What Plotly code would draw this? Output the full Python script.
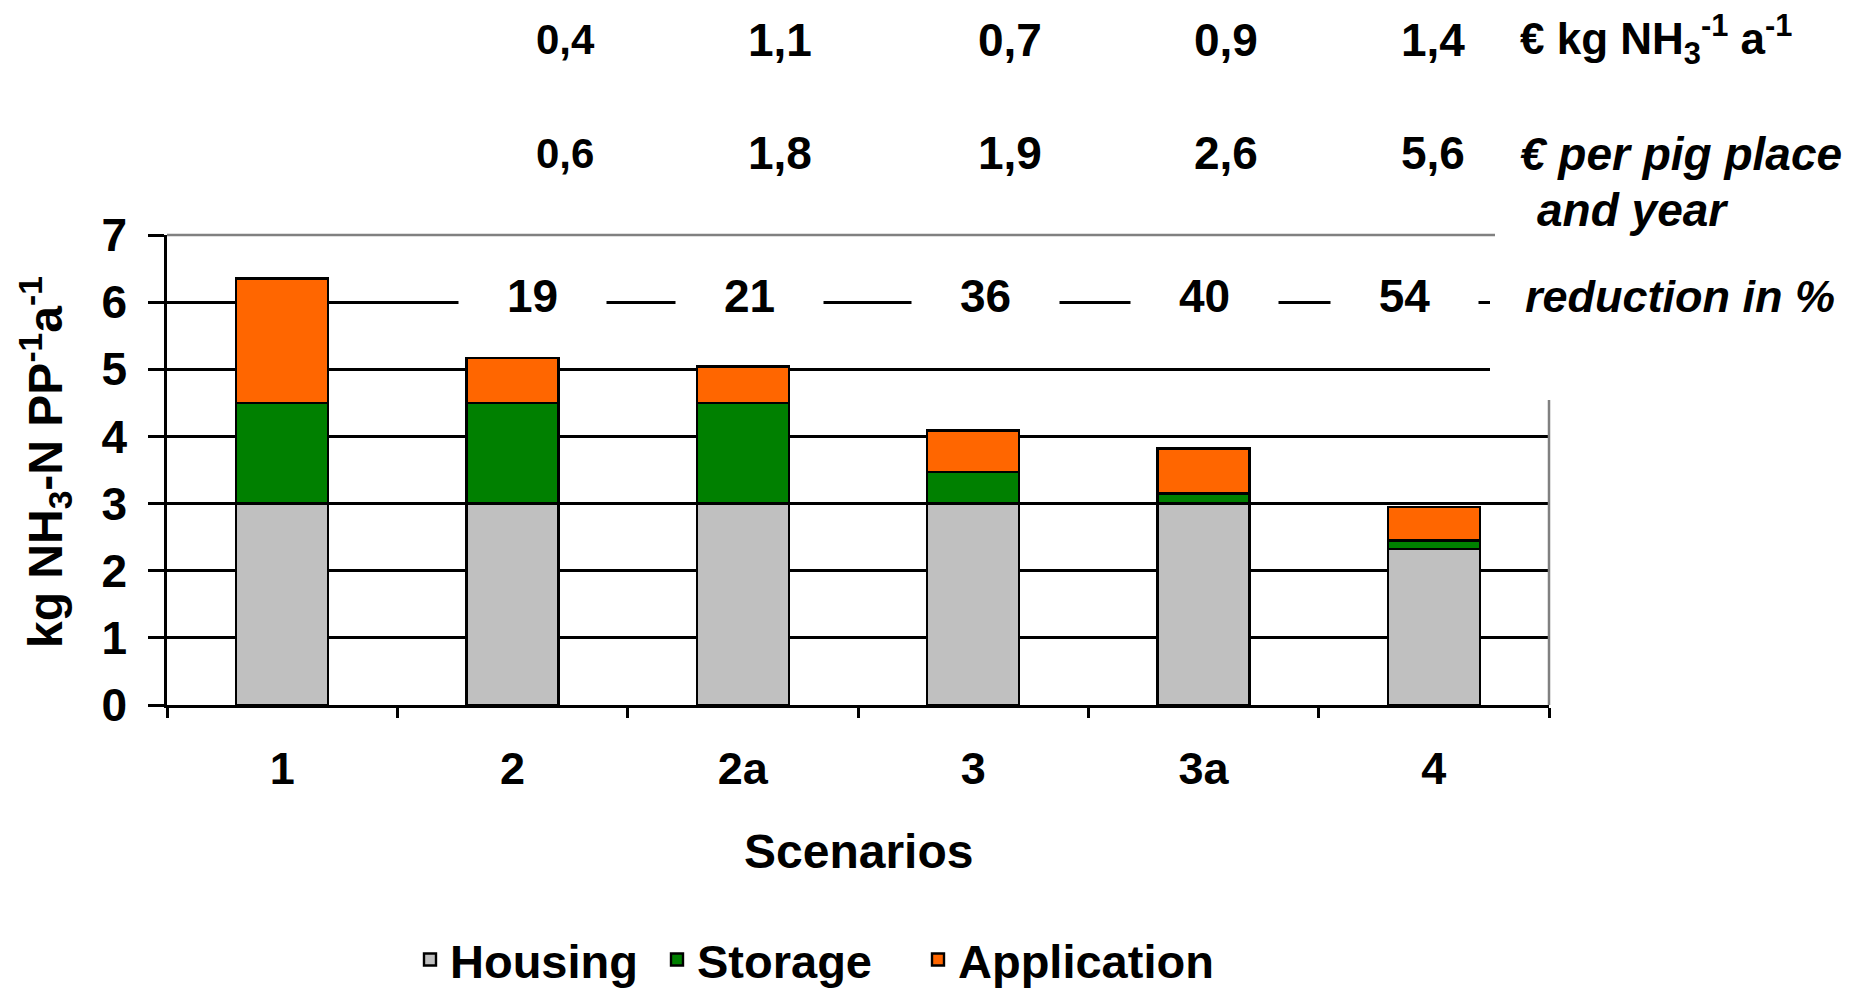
import plotly.graph_objects as go

# ---------------- data ----------------
scenarios = ["1", "2", "2a", "3", "3a", "4"]
housing = [3.0, 3.0, 3.0, 3.0, 3.0, 2.32]
storage = [1.5, 1.5, 1.5, 0.47, 0.15, 0.13]
application = [1.85, 0.67, 0.54, 0.62, 0.67, 0.50]

cost_per_kg = ["0,4", "1,1", "0,7", "0,9", "1,4"]
cost_per_place = ["0,6", "1,8", "1,9", "2,6", "5,6"]
reduction_pct = ["19", "21", "36", "40", "54"]

y_ticks = [0, 1, 2, 3, 4, 5, 6, 7]

# ---------------- layout geometry (pixels) ----------------
W, H = 1858, 988
L, R, T, B = 167, 1549, 235, 705   # plot area


def px(x):
    return (x - L) / (R - L)


def py(y):
    return (B - y) / (B - T)


FONT = "Liberation Sans, Arial, sans-serif"
NARROW = "Liberation Sans Narrow, Arial Narrow, Liberation Sans, Arial, sans-serif"

fig = go.Figure()
colors = {"Housing": "#C0C0C0", "Storage": "#008000", "Application": "#FF6600"}
legend_widths = {"Housing": 202, "Storage": 216, "Application": 260}
for name, vals in [("Housing", housing), ("Storage", storage), ("Application", application)]:
    fig.add_trace(go.Bar(
        x=scenarios, y=vals, name=name, legendwidth=legend_widths[name],
        marker=dict(color=colors[name], line=dict(color="black", width=2.4)),
    ))

annotations = []

# top rows of cost figures
top_x = [565, 780, 1010, 1226, 1433]
top_sizes = [42, 46, 46, 46, 46]
for xp, t, s in zip(top_x, cost_per_kg, top_sizes):
    annotations.append(dict(x=px(xp), y=py(40), xref="paper", yref="paper", text=t,
                            showarrow=False, xanchor="center", yanchor="middle",
                            font=dict(family=FONT, size=s, color="black", weight="bold")))
for xp, t, s in zip(top_x, cost_per_place, top_sizes):
    annotations.append(dict(x=px(xp), y=py(153), xref="paper", yref="paper", text=t,
                            showarrow=False, xanchor="center", yanchor="middle",
                            font=dict(family=FONT, size=s, color="black", weight="bold")))

# reduction numbers with white boxes interrupting grid line 6
red_x = [532, 749, 985, 1204, 1404]
for xp, t in zip(red_x, reduction_pct):
    annotations.append(dict(x=px(xp), y=py(296), xref="paper", yref="paper", text=t,
                            showarrow=False, xanchor="center", yanchor="middle",
                            width=147, height=50, bgcolor="white", borderpad=0,
                            font=dict(family=NARROW, size=46, color="black", weight="bold")))

# right-hand labels
annotations.append(dict(x=px(1518), y=py(40), xref="paper", yref="paper",
                        text="€ kg NH<sub>3</sub><sup>-1</sup> a<sup>-1</sup>",
                        showarrow=False, xanchor="left", yanchor="middle",
                        font=dict(family=FONT, size=44, color="black", weight="bold")))
annotations.append(dict(x=px(1518), y=py(154), xref="paper", yref="paper",
                        text="€ per pig place", showarrow=False, xanchor="left", yanchor="middle",
                        font=dict(family=FONT, size=46, color="black", weight="bold", style="italic")))
annotations.append(dict(x=px(1535), y=py(210), xref="paper", yref="paper",
                        text="and year", showarrow=False, xanchor="left", yanchor="middle",
                        font=dict(family=FONT, size=46, color="black", weight="bold", style="italic")))
annotations.append(dict(x=px(1523), y=py(296), xref="paper", yref="paper",
                        text="reduction in %", showarrow=False, xanchor="left", yanchor="middle",
                        font=dict(family=FONT, size=45, color="black", weight="bold", style="italic")))

# axis titles
annotations.append(dict(x=px(858), y=py(851), xref="paper", yref="paper", text="Scenarios",
                        showarrow=False, xanchor="center", yanchor="middle",
                        font=dict(family=FONT, size=48, color="black", weight="bold")))
annotations.append(dict(x=px(45), y=py(462), xref="paper", yref="paper",
                        text="kg NH<sub>3</sub>-N PP<sup>-1</sup>a<sup>-1</sup>", textangle=-90,
                        showarrow=False, xanchor="center", yanchor="middle",
                        font=dict(family=FONT, size=48, color="black", weight="bold")))

shapes = [
    # white box covering upper right of the plot frame
    dict(type="rect", xref="paper", yref="paper", x0=px(1490), x1=px(1858), y0=py(400), y1=py(-20),
         fillcolor="white", line=dict(width=0), layer="above"),
    # grey frame top line
    dict(type="line", xref="paper", yref="paper", x0=0, x1=px(1495), y0=1, y1=1,
         line=dict(color="#808080", width=2.5), layer="above"),
    # grey frame right line
    dict(type="line", xref="paper", yref="paper", x0=1, x1=1, y0=0, y1=py(400),
         line=dict(color="#808080", width=2.5), layer="above"),
]

fig.update_layout(
    width=W, height=H,
    margin=dict(l=L, r=W - R, t=T, b=H - B, autoexpand=False),
    paper_bgcolor="white", plot_bgcolor="white",
    barmode="stack", bargap=0.6,
    font=dict(family=FONT, size=45, color="black", weight="bold"),
    annotations=annotations, shapes=shapes,
    legend=dict(orientation="h", x=px(410), xanchor="left", y=py(960), yanchor="middle",
                traceorder="normal", font=dict(family=FONT, size=47, color="black", weight="bold"),
                itemwidth=30, bgcolor="rgba(0,0,0,0)"),
)
fig.update_xaxes(
    type="category", showline=True, linecolor="black", linewidth=2.5,
    ticks="outside", tickson="boundaries", ticklen=10, tickwidth=2.5, tickcolor="black",
    showgrid=False, ticklabelstandoff=22,
    tickfont=dict(family=FONT, size=45, color="black", weight="bold"),
)
fig.update_yaxes(
    range=[0, 7], tickvals=y_ticks, showline=True, linecolor="black", linewidth=2.5,
    ticks="outside", ticklen=16, tickwidth=2.5, tickcolor="black",
    showgrid=True, gridcolor="black", gridwidth=2.5, zeroline=False, ticklabelstandoff=12,
    tickfont=dict(family=FONT, size=46, color="black", weight="bold"),
)

fig.write_html("out.html")
